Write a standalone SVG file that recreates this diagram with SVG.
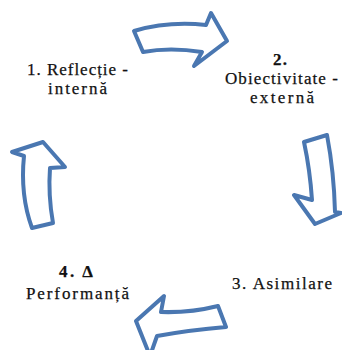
<svg xmlns="http://www.w3.org/2000/svg" width="342" height="350" viewBox="0 0 342 350">
<style>
.arrow{fill:#ffffff;stroke:#4a77b1;stroke-width:4;stroke-linejoin:round}
.lbl{font-family:"Liberation Serif","Times New Roman",serif;font-size:17px;fill:#111;stroke:#111;stroke-width:0.25}
</style>
<rect width="342" height="350" fill="#ffffff"/>
<g id="connectors">
<path id="arrow-top" class="arrow" d="M134,31 Q168,21 206,25 L211,13 L227,41 L194,66 L202,52 Q170,47 143,52 Z"/>
<path id="arrow-right" class="arrow" d="M304,142 L327,135 Q334,172 335,212 L341,213 L315,224 L294,195 L312,200 Q310,170 304,142 Z"/>
<path id="arrow-bottom" class="arrow" d="M164,296 L161,312 Q190,313 218,306 L226,327 Q190,330 157,336 L150,356 L136,321 Z"/>
<path id="arrow-left" class="arrow" d="M12,152 L43,142 L65,167 L50,168 Q48,195 53,223 L32,228 Q20,195 24,156 Z"/>
</g>
<g id="node1">
<text class="lbl" x="27" y="75" textLength="101" lengthAdjust="spacing">1. Reflecție -</text>
<text class="lbl" x="48" y="94" textLength="59" lengthAdjust="spacing">internă</text>
</g>
<g id="node2">
<text class="lbl" x="273" y="65" textLength="14" lengthAdjust="spacing" font-weight="bold">2.</text>
<text class="lbl" x="225" y="84" textLength="113" lengthAdjust="spacing">Obiectivitate -</text>
<text class="lbl" x="250" y="103" textLength="64" lengthAdjust="spacing">externă</text>
</g>
<g id="node3">
<text class="lbl" x="232" y="289" textLength="100" lengthAdjust="spacing">3. Asimilare</text>
</g>
<g id="node4">
<text class="lbl" x="59" y="277" textLength="34" lengthAdjust="spacing" font-weight="bold">4.  Δ</text>
<text class="lbl" x="26" y="299" textLength="103" lengthAdjust="spacing">Performanță</text>
</g>
</svg>
